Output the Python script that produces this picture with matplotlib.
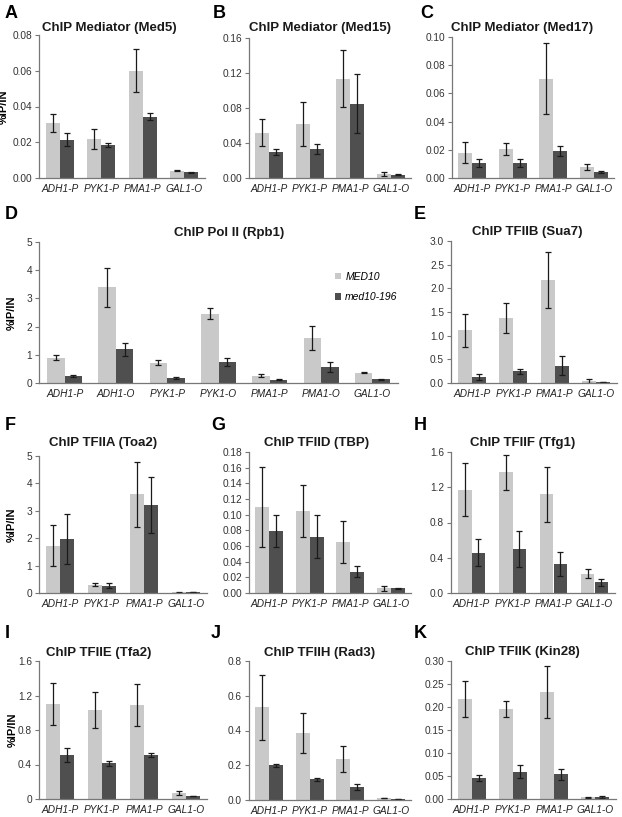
import matplotlib.pyplot as plt
import numpy as np

plt.rcParams['font.family'] = ['Liberation Sans', 'DejaVu Sans']

genes4 = ['ADH1-P', 'PYK1-P', 'PMA1-P', 'GAL1-O']
genes7 = ['ADH1-P', 'ADH1-O', 'PYK1-P', 'PYK1-O', 'PMA1-P', 'PMA1-O', 'GAL1-O']

# MED10 (light) / med10-196 (dark), means and error bars
med5_wt = [0.031, 0.022, 0.060, 0.004]
med5_wt_err = [0.005, 0.0055, 0.012, 0.0003]
med5_mut = [0.0215, 0.0185, 0.0343, 0.0032]
med5_mut_err = [0.0035, 0.001, 0.002, 0.0003]

med15_wt = [0.052, 0.062, 0.1137, 0.0045]
med15_wt_err = [0.015, 0.025, 0.033, 0.002]
med15_mut = [0.0296, 0.0334, 0.085, 0.004]
med15_mut_err = [0.003, 0.0057, 0.034, 0.001]

med17_wt = [0.0179, 0.0205, 0.0704, 0.0078]
med17_wt_err = [0.0073, 0.004, 0.025, 0.002]
med17_mut = [0.0106, 0.0106, 0.019, 0.004]
med17_mut_err = [0.003, 0.003, 0.0035, 0.0007]

rpb1_wt = [0.90, 3.40, 0.72, 2.46, 0.26, 1.60, 0.37]
rpb1_wt_err = [0.08, 0.69, 0.09, 0.20, 0.05, 0.42, 0.03]
rpb1_mut = [0.25, 1.19, 0.17, 0.73, 0.11, 0.57, 0.13]
rpb1_mut_err = [0.02, 0.24, 0.04, 0.14, 0.02, 0.18, 0.02]

sua7_wt = [1.11, 1.37, 2.17, 0.05]
sua7_wt_err = [0.34, 0.32, 0.59, 0.04]
sua7_mut = [0.13, 0.245, 0.36, 0.02]
sua7_mut_err = [0.06, 0.06, 0.20, 0.005]

toa2_wt = [1.73, 0.30, 3.60, 0.02]
toa2_wt_err = [0.76, 0.05, 1.18, 0.005]
toa2_mut = [1.98, 0.27, 3.22, 0.03]
toa2_mut_err = [0.92, 0.08, 1.02, 0.005]

tbp_wt = [0.110, 0.1046, 0.065, 0.006]
tbp_wt_err = [0.051, 0.033, 0.027, 0.003]
tbp_mut = [0.079, 0.072, 0.027, 0.006]
tbp_mut_err = [0.020, 0.027, 0.007, 0.001]

tfg1_wt = [1.17, 1.368, 1.12, 0.22]
tfg1_wt_err = [0.30, 0.20, 0.31, 0.05]
tfg1_mut = [0.456, 0.50, 0.327, 0.12]
tfg1_mut_err = [0.155, 0.20, 0.135, 0.04]

tfa2_wt = [1.10, 1.036, 1.09, 0.07]
tfa2_wt_err = [0.24, 0.21, 0.24, 0.02]
tfa2_mut = [0.51, 0.414, 0.51, 0.035]
tfa2_mut_err = [0.08, 0.03, 0.02, 0.005]

rad3_wt = [0.535, 0.388, 0.236, 0.01]
rad3_wt_err = [0.187, 0.115, 0.075, 0.001]
rad3_mut = [0.20, 0.119, 0.0757, 0.005]
rad3_mut_err = [0.01, 0.01, 0.018, 0.001]

kin28_wt = [0.217, 0.196, 0.233, 0.004]
kin28_wt_err = [0.039, 0.017, 0.056, 0.001]
kin28_mut = [0.046, 0.059, 0.0535, 0.004]
kin28_mut_err = [0.006, 0.014, 0.012, 0.002]

LIGHT = '#c9c9c9'
DARK = '#4f4f4f'
W, H = 622, 817

fig = plt.figure(figsize=(W / 100, H / 100), dpi=100)


def px_axes(x0, y0, x1, y1):
    return fig.add_axes([x0 / W, 1 - y1 / H, (x1 - x0) / W, (y1 - y0) / H])


def panel(box, genes, wt, wt_err, mut, mut_err, ymax, step, fmt,
          title, tpos, letter, lpos, ylab_x=None, first_fmt=None):
    ax = px_axes(*box)
    x = np.arange(len(genes))
    bw = 0.34
    ekw = dict(ecolor='#1a1a1a', elinewidth=0.9, capsize=2.2, capthick=0.9)
    ax.bar(x - bw / 2, wt, bw, color=LIGHT, yerr=wt_err, error_kw=ekw, label='MED10')
    ax.bar(x + bw / 2, mut, bw, color=DARK, yerr=mut_err, error_kw=ekw, label='med10-196')
    ax.set_xlim(-0.5, len(genes) - 0.5)
    ax.set_ylim(0, ymax)
    ticks = np.arange(0, ymax + step / 2, step)
    ax.set_yticks(ticks)
    labels = [fmt.format(t) for t in ticks]
    if first_fmt is not None:
        labels[0] = first_fmt
    ax.set_yticklabels(labels, fontsize=7.3, color='#333333')
    ax.set_xticks(x)
    ax.set_xticklabels(genes, fontsize=7.3, style='italic', color='#222222')
    ax.tick_params(axis='x', length=0, pad=4.5)
    ax.tick_params(axis='y', length=3, width=0.8, color='#777777', pad=2)
    for s in ['top', 'right']:
        ax.spines[s].set_visible(False)
    for s in ['left', 'bottom']:
        ax.spines[s].set_color('#777777')
        ax.spines[s].set_linewidth(0.9)
    fig.text(tpos[0] / W, 1 - tpos[1] / H, title, fontsize=9.5, fontweight='bold',
             ha='center', va='center', color='#1a1a1a')
    fig.text(lpos[0] / W, 1 - lpos[1] / H, letter, fontsize=13, fontweight='bold',
             ha='left', va='center', color='black')
    if ylab_x is not None:
        yc = (box[1] + box[3]) / 2
        fig.text(ylab_x / W, 1 - yc / H, '%IP/IN', fontsize=8, fontweight='bold',
                 rotation=90, ha='center', va='center')
    return ax


panel((39, 35, 205, 178), genes4, med5_wt, med5_wt_err, med5_mut, med5_mut_err,
      0.08, 0.02, '{:.2f}', 'ChIP Mediator (Med5)', (109, 28), 'A', (5, 13), ylab_x=4)
panel((249, 38, 411, 178), genes4, med15_wt, med15_wt_err, med15_mut, med15_mut_err,
      0.16, 0.04, '{:.2f}', 'ChIP Mediator (Med15)', (320, 28), 'B', (213, 13))
panel((452, 37, 614, 178), genes4, med17_wt, med17_wt_err, med17_mut, med17_mut_err,
      0.10, 0.02, '{:.2f}', 'ChIP Mediator (Med17)', (522, 28), 'C', (420, 13))

axd = panel((39, 242, 398, 383), genes7, rpb1_wt, rpb1_wt_err, rpb1_mut, rpb1_mut_err,
            5, 1, '{:.0f}', 'ChIP Pol II (Rpb1)', (229, 233), 'D', (5, 215), ylab_x=12)
axd.legend(loc='upper right', bbox_to_anchor=(1.025, 0.855), frameon=False,
           handlelength=0.6, handleheight=0.6, handletextpad=0.4,
           labelspacing=1.0, prop={'style': 'italic', 'size': 7.5})

panel((451, 241, 617, 383), genes4, sua7_wt, sua7_wt_err, sua7_mut, sua7_mut_err,
      3.0, 0.5, '{:.1f}', 'ChIP TFIIB (Sua7)', (527, 232), 'E', (414, 215))

panel((39, 456, 207, 593), genes4, toa2_wt, toa2_wt_err, toa2_mut, toa2_mut_err,
      5, 1, '{:.0f}', 'ChIP TFIIA (Toa2)', (103, 443), 'F', (5, 425), ylab_x=12)
panel((249, 452, 411, 593), genes4, tbp_wt, tbp_wt_err, tbp_mut, tbp_mut_err,
      0.18, 0.02, '{:.2f}', 'ChIP TFIID (TBP)', (317, 443), 'G', (211, 425))
panel((451, 452, 615, 593), genes4, tfg1_wt, tfg1_wt_err, tfg1_mut, tfg1_mut_err,
      1.6, 0.4, '{:.1f}', 'ChIP TFIIF (Tfg1)', (523, 443), 'H', (414, 425))

panel((39, 661, 207, 799), genes4, tfa2_wt, tfa2_wt_err, tfa2_mut, tfa2_mut_err,
      1.6, 0.4, '{:.1f}', 'ChIP TFIIE (Tfa2)', (99, 653), 'I', (5, 633),
      ylab_x=13, first_fmt='0')
panel((249, 661, 411, 800), genes4, rad3_wt, rad3_wt_err, rad3_mut, rad3_mut_err,
      0.8, 0.2, '{:.1f}', 'ChIP TFIIH (Rad3)', (320, 653), 'J', (211, 633))
panel((451, 661, 616, 799), genes4, kin28_wt, kin28_wt_err, kin28_mut, kin28_mut_err,
      0.30, 0.05, '{:.2f}', 'ChIP TFIIK (Kin28)', (522, 652), 'K', (414, 633))

fig.savefig('out.png', dpi=100)
